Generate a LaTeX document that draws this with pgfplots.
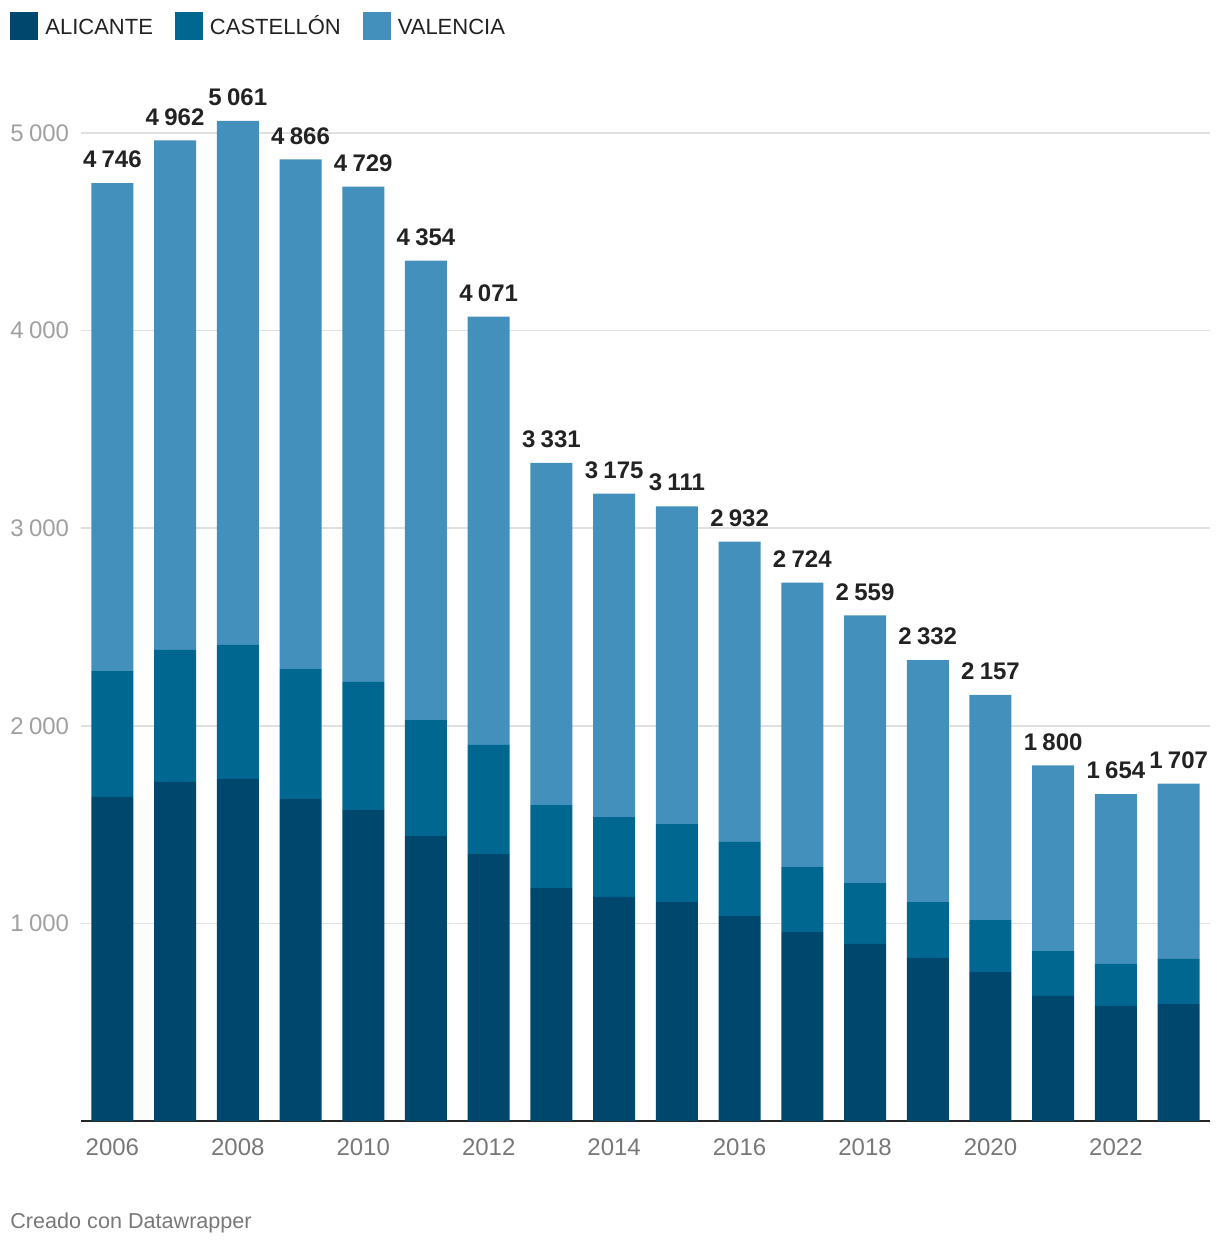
\documentclass[border=0pt]{standalone}
\usepackage{fontspec}
\setmainfont{Liberation Sans}
\usepackage{pgfplots}
\pgfplotsset{compat=1.18}
\usepackage{pgfplotstable}
\definecolor{ali}{RGB}{0,71,110}
\definecolor{cas}{RGB}{0,104,144}
\definecolor{val}{RGB}{67,144,188}
\definecolor{gridc}{RGB}{224,224,224}
\definecolor{ytc}{RGB}{160,160,160}
\definecolor{xtc}{RGB}{120,120,120}
\definecolor{lab}{RGB}{34,34,34}
\pgfplotstableread{
year a c v t
2006 1640 637 2469 4746
2007 1716 668 2578 4962
2008 1731 678 2652 5061
2009 1630 657 2579 4866
2010 1574 648 2507 4729
2011 1442 587 2325 4354
2012 1351 552 2168 4071
2013 1179 420 1732 3331
2014 1134 404 1637 3175
2015 1108 395 1608 3111
2016 1037 375 1520 2932
2017 956 329 1439 2724
2018 896 308 1355 2559
2019 825 283 1224 2332
2020 754 263 1140 2157
2021 633 227 940 1800
2022 582 213 859 1654
2023 592 228 887 1707
}\datatable
\begin{document}
\begin{tikzpicture}[x=1pt,y=1pt]
\path[use as bounding box] (0,0) rectangle (610,623);
\begin{axis}[
  at={(40.5pt,62.5pt)}, anchor=south west,
  scale only axis, width=564.5pt, height=494pt,
  ybar stacked, bar width=21pt,
  xmin=2005.5, xmax=2023.5, ymin=0, ymax=5000,
  enlargelimits=false, clip=false,
  axis x line*=bottom, axis y line*=left,
  x axis line style={draw=black!85, line width=1pt, -},
  y axis line style={draw=none},
  major tick length=0pt,
  xtick={2006,2008,...,2022},
  xticklabels={2006,2008,2010,2012,2014,2016,2018,2020,2022},
  xticklabel style={font=\fontsize{12}{14}\selectfont, text=xtc, yshift=-5.5pt},
  ytick={1000,2000,3000,4000,5000},
  ymajorgrids, grid style={gridc, line width=0.75pt},
  yticklabel style={font=\fontsize{12}{14}\selectfont, text=ytc, anchor=west, inner sep=0pt, xshift=-35.5pt},
  /pgf/number format/.cd, 1000 sep={\hspace{0.22em}}, assume math mode=true,
  /pgfplots/.cd,
  legend columns=3,
  legend style={at={(-0.0629,1.1224)}, anchor=north west, draw=none, inner sep=0pt,
    font=\fontsize{11}{13}\selectfont, text=lab,
    nodes={text height=8pt, text depth=0pt},
    /tikz/every odd column/.append style={column sep=1.5pt},
    /tikz/every even column/.append style={column sep=9pt}},
  legend cell align=left,
  legend image code/.code={\fill[#1] (0pt,-7pt) rectangle (14pt,7pt);},
]
\addplot[fill=ali, draw=none] table[x=year,y=a] {\datatable};
\addplot[fill=cas, draw=none] table[x=year,y=c] {\datatable};
\addplot[fill=val, draw=none, point meta=explicit,
  visualization depends on={\thisrow{v} \as \rv},
  nodes near coords,
  every node near coord/.append style={font=\bfseries\fontsize{12}{14}\selectfont, text=lab, anchor=south, yshift={\rv*0.0494pt+4pt}}]
  table[x=year,y=v,meta=t] {\datatable};
\legend{ALICANTE, CASTELLÓN, VALENCIA}
\end{axis}
\node[anchor=west, inner sep=0pt, text=xtc, font=\fontsize{10.8}{13}\selectfont] at (5,11.5) {Creado con Datawrapper};
\end{tikzpicture}
\end{document}
